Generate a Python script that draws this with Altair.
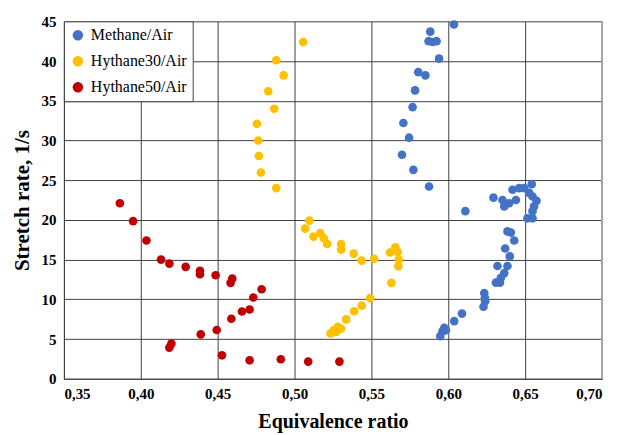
import altair as alt
import pandas as pd

series = ["Methane/Air", "Hythane30/Air", "Hythane50/Air"]
colors = ["#4472C4", "#FFC000", "#C00000"]

methane_x = [0.6037, 0.5883, 0.5872, 0.5898, 0.5924, 0.5940, 0.5805, 0.5851, 0.5784, 0.5768,
             0.5708, 0.5745, 0.5699, 0.5773, 0.5875, 0.6111,
             0.6294, 0.6353, 0.6364, 0.6396, 0.6418, 0.6440, 0.6461, 0.6494, 0.6543, 0.6526,
             0.6548, 0.6574, 0.6558, 0.6548, 0.6515, 0.6548,
             0.6385, 0.6407, 0.6429, 0.6370, 0.6400, 0.6385, 0.6320, 0.6364, 0.6342, 0.6310, 0.6336,
             0.6234, 0.6238, 0.6240, 0.6229, 0.6089, 0.6039, 0.5974, 0.5985, 0.5963, 0.5948]
methane_y = [44.6, 43.7, 42.5, 42.4, 42.5, 40.3, 38.6, 38.2, 36.3, 34.2,
             32.2, 30.35, 28.2, 26.3, 24.2, 21.1,
             22.8, 22.5, 21.7, 22.1, 23.8, 22.5, 24.0, 24.0, 24.5, 23.4,
             22.95, 22.4, 21.7, 21.1, 20.2, 20.2,
             18.55, 18.4, 17.4, 16.4, 15.4, 14.2, 14.2, 13.3, 12.7, 12.1, 12.1,
             10.8, 10.2, 9.77, 9.06, 8.2, 7.26, 6.4, 6.1, 6.0, 5.37]

h30_x = [0.5056, 0.4881, 0.4929, 0.4829, 0.4868, 0.4755, 0.4764, 0.4768, 0.4781, 0.4881,
         0.5097, 0.5069, 0.5123, 0.5167, 0.5190, 0.5212, 0.5303, 0.5303, 0.5385, 0.5437,
         0.5518, 0.5621, 0.5656, 0.5671, 0.5678, 0.5675, 0.5630, 0.5492, 0.5437, 0.5388,
         0.5336, 0.5303, 0.5281, 0.5255, 0.5234, 0.5271]
h30_y = [42.4, 40.1, 38.2, 36.2, 34.0, 32.1, 30.0, 28.05, 25.96, 24.0,
         19.9, 18.9, 17.9, 18.35, 17.7, 16.97, 16.97, 16.25, 15.75, 14.87,
         15.1, 15.9, 16.55, 15.95, 15.0, 14.16, 12.07, 10.15, 9.2, 8.5,
         7.47, 6.3, 6.55, 6.13, 5.71, 5.88]

h50_x = [0.3864, 0.3950, 0.4037, 0.4132, 0.4186, 0.4292, 0.4385, 0.4385, 0.4487, 0.4595,
         0.4584, 0.4786, 0.4732, 0.4708, 0.4658, 0.4589, 0.4494, 0.4390, 0.4199, 0.4186,
         0.4528, 0.4708, 0.4911, 0.5089, 0.5292]
h50_y = [22.1, 19.85, 17.4, 15.0, 14.5, 14.08, 13.58, 13.15, 13.03, 12.6,
         12.07, 11.27, 10.23, 8.72, 8.47, 7.55, 6.13, 5.59, 4.42, 3.92,
         2.95, 2.32, 2.45, 2.16, 2.16]

x_ticks = [0.35, 0.40, 0.45, 0.50, 0.55, 0.60, 0.65, 0.70]
y_ticks = [0, 5, 10, 15, 20, 25, 30, 35, 40, 45]

rows = []
for name, xs, ys in zip(series, [methane_x, h30_x, h50_x], [methane_y, h30_y, h50_y]):
    for xv, yv in zip(xs, ys):
        rows.append({"phi": xv, "k": yv, "fuel": name})
df = pd.DataFrame(rows)

FONT = "Liberation Serif"
GRID = "#404040"

x_axis = alt.Axis(values=x_ticks, title="Equivalence ratio",
                  labelExpr="replace(format(datum.value, '.2f'), '.', ',')",
                  titlePadding=10)

points = alt.Chart(df).mark_circle(size=75, opacity=1).encode(
    x=alt.X("phi:Q",
            scale=alt.Scale(domain=[0.35, 0.70], nice=False, zero=False),
            axis=x_axis),
    y=alt.Y("k:Q",
            scale=alt.Scale(domain=[0, 45], nice=False),
            axis=alt.Axis(values=y_ticks, title="Stretch rate, 1/s",
                          titleFontSize=21, titlePadding=8)),
    color=alt.Color("fuel:N",
                    scale=alt.Scale(domain=series, range=colors),
                    legend=alt.Legend(title=None, orient="top-left", offset=0,
                                      fillColor="white", strokeColor=GRID,
                                      padding=6, rowPadding=10, labelOffset=5,
                                      symbolType="circle", symbolSize=110,
                                      symbolStrokeWidth=0, symbolOpacity=1,
                                      labelLimit=200)),
)

border = alt.Chart(pd.DataFrame({"phi": [0.70]})).mark_rule(color="#a6a6a6", strokeWidth=2).encode(
    x=alt.X("phi:Q", axis=x_axis)
)

chart = alt.layer(border, points).properties(
    width=539, height=358,
    autosize=alt.AutoSizeParams(type="none"),
    padding={"left": 56, "top": 13, "right": 8, "bottom": 56},
).configure(
    font=FONT,
    style={"guide-label": {"font": FONT, "fontWeight": "bold", "fontSize": 15, "fill": "black"}},
).configure_view(
    stroke=None
).configure_axis(
    grid=True, gridColor=GRID, gridOpacity=1, ticks=False, domainColor=GRID,
    labelFont=FONT, labelFontSize=15, labelFontWeight="bold", labelColor="black",
    labelPadding=8, titleFont=FONT, titleFontSize=20, titleFontWeight="bold",
    titleColor="black",
).configure_legend(
    labelFont=FONT, labelFontSize=16, labelFontWeight="normal", labelColor="black",
)

chart.save("out.html", embed_options={"renderer": "svg", "actions": False})
